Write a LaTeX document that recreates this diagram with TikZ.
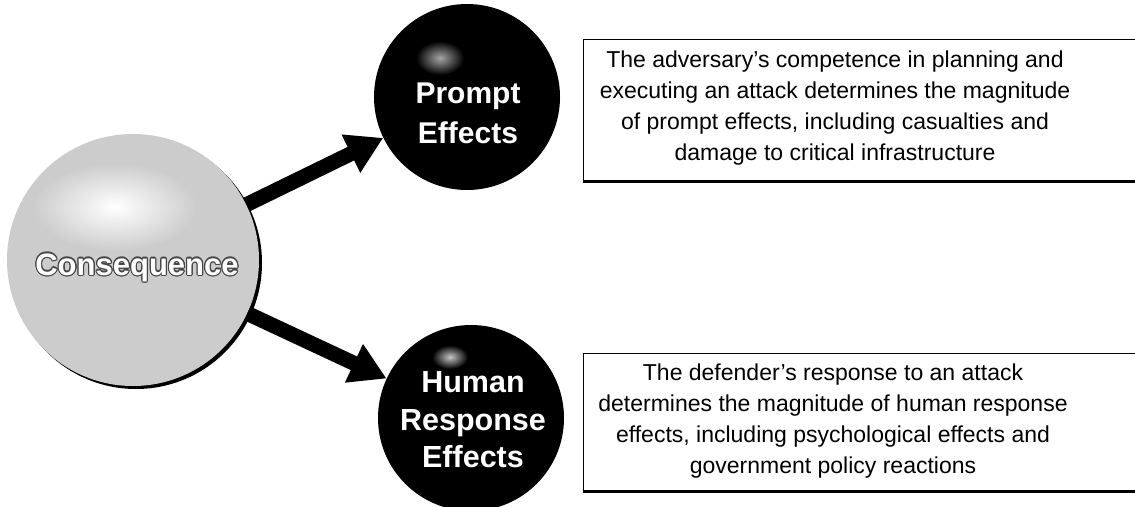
\documentclass[tikz,border=0pt]{standalone}
\usepackage{fontspec}
\setmainfont{Liberation Sans}
\usepackage{contour}
\contourlength{1.1pt}
\usetikzlibrary{arrows.meta}

\begin{document}
\begin{tikzpicture}[x=1pt, y=-1pt, every node/.style={circle, inner sep=0pt},
  bigball/.style={fill=gray!40, minimum size=252pt},
  effect/.style={fill=black, minimum size=186pt},
  effecttext/.style={rectangle, text=white, align=center, font=\bfseries\fontsize{30}{40}\selectfont},
  descbox/.style={rectangle, draw, line width=0.8pt, fill=white, minimum width=562pt},
  desctext/.style={rectangle, align=center, font=\fontsize{23}{31}\selectfont},
  fat/.style={line width=15pt, -{Triangle[length=36pt, width=40pt]}}]
\useasboundingbox (0,0) rectangle (1135,506);
\clip (0,0) rectangle (1135,506);
\node[bigball, fill=black] (C0s) at (136,263) {};
\node[bigball] (C0) at (133,260) {};
\shade[inner color=white, outer color=gray!40] (115,207) ellipse [x radius=82pt, y radius=44pt];
\node[text=white, rectangle, font=\bfseries\fontsize{31}{31}\selectfont] (C0t) at (137,268) {\contour{gray!55!black}{Consequence}};
\node[effect] (P1) at (467,97) {};
\shade[inner color=gray!70, outer color=black] (440,58) ellipse [x radius=24pt, y radius=17pt];
\node[effecttext] (P1t) at (468,113) {Prompt\\Effects};
\node[effect] (H1) at (471,418) {};
\shade[inner color=gray!45, outer color=black] (450,357) ellipse [x radius=18pt, y radius=12pt];
\node[effecttext, font=\bfseries\fontsize{30.5}{37.5}\selectfont] (H1t) at (473,420) {Human\\Response\\Effects};
\draw[fat] (C0) -- (P1);
\draw[fat] (C0) -- (H1);
\node[descbox, minimum height=142pt] (B1) at (864,110) {};
\draw[line width=3pt] (B1.south west) -- (B1.south east);
\node[desctext] (T1) at (835,108) {The adversary's competence in planning and\\executing an attack determines the magnitude\\of prompt effects, including casualties and\\damage to critical infrastructure};
\node[descbox, minimum height=138pt] (B2) at (864,422) {};
\draw[line width=3pt] (B2.south west) -- (B2.south east);
\node[desctext] (T2) at (833,421) {The defender's response to an attack\\determines the magnitude of human response\\effects, including psychological effects and\\government policy reactions};
\end{tikzpicture}
\end{document}
